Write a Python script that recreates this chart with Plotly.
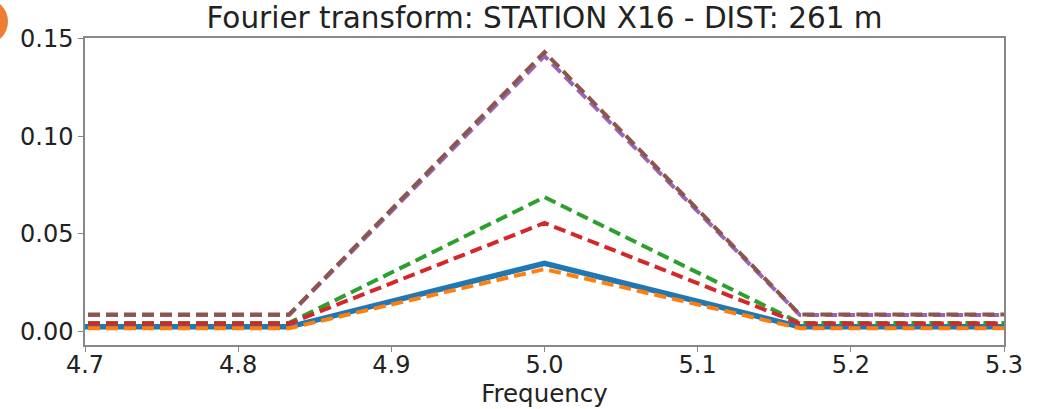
import plotly.graph_objects as go

freq = [4.6667, 4.8333, 5.0, 5.1667, 5.3333]
series_names = ["s1", "s2", "s3", "s4", "s5", "s6"]
blue = [0.0025, 0.0025, 0.0350, 0.0025, 0.0025]
orange = [0.0018, 0.0018, 0.0320, 0.0018, 0.0018]
green = [0.0045, 0.0045, 0.0688, 0.0045, 0.0045]
red = [0.0042, 0.0042, 0.0556, 0.0042, 0.0042]
purple = [0.0085, 0.0085, 0.1410, 0.0085, 0.0085]
brown = [0.0088, 0.0088, 0.1430, 0.0088, 0.0088]
x_ticks = [4.7, 4.8, 4.9, 5.0, 5.1, 5.2, 5.3]
y_ticks = [0.0, 0.05, 0.10, 0.15]

styles = [
    (blue, "#1f77b4", 5.5, "solid"),
    (orange, "#ff7f0e", 4, "12px,6px"),
    (green, "#2ca02c", 4, "12px,6px"),
    (red, "#d62728", 4, "12px,6px"),
    (purple, "#9467bd", 4, "12px,6px"),
    (brown, "#8c564b", 4, "12px,6px"),
]

fig = go.Figure()
for name, (vals, col, w, dash) in zip(series_names, styles):
    fig.add_trace(go.Scatter(x=freq, y=vals, mode="lines", name=name,
                             line=dict(color=col, width=w, dash=dash)))

font = "DejaVu Sans"
L, R, T, B = 85, 33, 38, 64
fig.update_layout(
    width=1037, height=409,
    margin=dict(l=L, r=R, t=T, b=B, autoexpand=False),
    paper_bgcolor="white", plot_bgcolor="white",
    showlegend=False,
    font=dict(family=font, color="black"),
    title=dict(text="Fourier transform: STATION X16 - DIST: 261 m",
               x=(L + 1037 - R) / 2 / 1037, xanchor="center",
               y=1 - 18 / 409, yanchor="middle",
               font=dict(size=29.5, family=font, color="#222")),
    xaxis=dict(range=[4.7, 5.3], tickvals=x_ticks,
               ticktext=[f"{v:.1f}" for v in x_ticks],
               showgrid=False, zeroline=False, showline=True, mirror=True,
               linecolor="#888", linewidth=1.5, ticks="outside", ticklen=5,
               ticklabelstandoff=-8,
               tickcolor="#888", tickfont=dict(size=24, family=font, color="#222"),
               title=dict(text="Frequency", font=dict(size=24.5, family=font, color="#222"),
                          standoff=4)),
    yaxis=dict(range=[-0.0068, 0.1502], tickvals=y_ticks,
               ticktext=[f"{v:.2f}" for v in y_ticks],
               showgrid=False, zeroline=False, showline=True, mirror=True,
               linecolor="#888", linewidth=1.5, ticks="outside", ticklen=5,
               tickcolor="#888", tickfont=dict(size=24, family=font, color="#222")),
)

# decorative overlay from the original screenshot
pw, ph = 1037 - L - R, 409 - T - B
fig.add_shape(type="circle", xref="paper", yref="paper",
              x0=(-L - 40) / pw, x1=(-L + 8) / pw,
              y0=1 + (T - 45) / ph, y1=1 + (T + 2) / ph,
              fillcolor="#ed7d31", line=dict(width=0), layer="above")

fig.write_html("out.html", config={"displayModeBar": False},
               post_script="document.body.style.margin='0';document.body.style.overflow='hidden';")
